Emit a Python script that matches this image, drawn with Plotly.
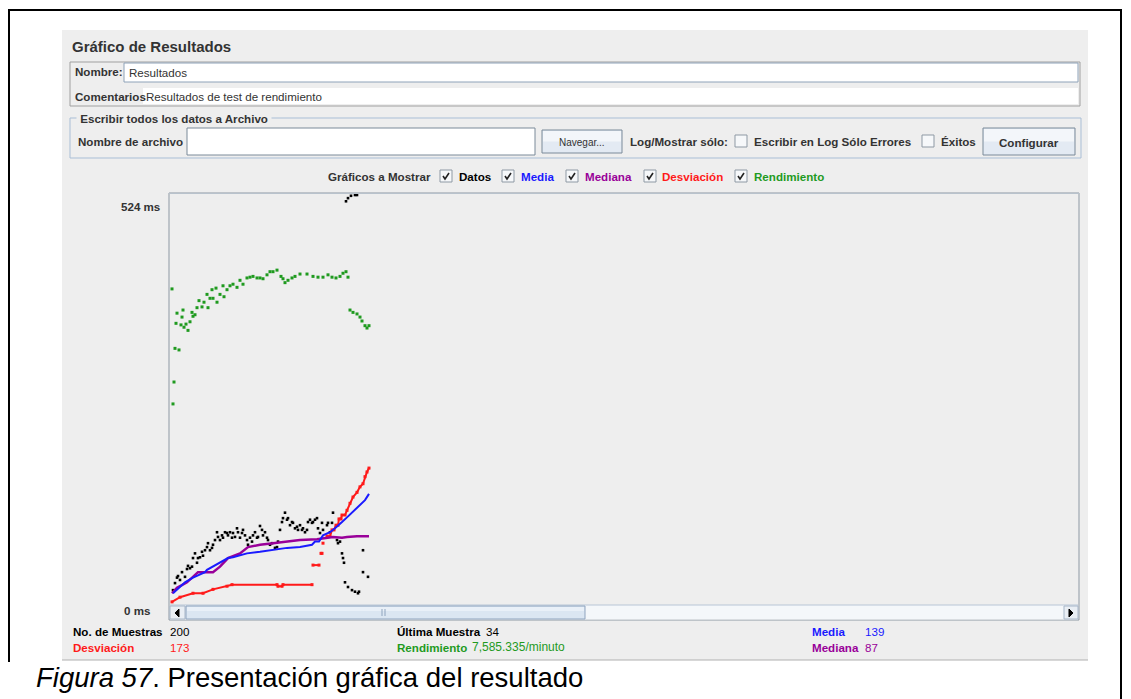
import plotly.graph_objects as go

# page body has an 8px margin: figure covers page pixels 8..1131 / 8..699
OFF = 8
W, H = 1131 - OFF, 699 - OFF

# ---------------- data (sample index, ms) ----------------
datos_idx = [2, 4, 6, 7, 9, 11, 14, 16, 17, 19, 21, 22, 24, 26, 27, 29, 31, 32, 34, 36, 37, 39, 41, 42, 44,
             46, 47, 49, 51, 52, 54, 56, 57, 59, 61, 62, 64, 66, 67, 69, 71, 72, 74, 76, 77, 79, 81, 82, 84,
             86, 87, 89, 91, 92, 94, 96, 97, 99, 101, 104, 106, 107, 109, 111, 112, 114, 116, 117, 119, 121,
             122, 124, 126, 127, 129, 131, 132, 134, 136, 137, 139, 141, 142, 144, 146, 147, 149, 151, 152,
             156, 157, 159, 161, 162, 166, 167, 169, 171, 172, 173, 174, 177, 181, 184, 187, 188, 192, 192,
             197, 175, 177, 180, 184, 186]
datos_ms = [19, 28, 35, 37, 32, 42, 36, 46, 50, 47, 49, 60, 66, 54, 60, 61, 68, 63, 70, 74, 79, 70, 73, 77, 83,
            93, 87, 83, 89, 86, 93, 92, 89, 93, 86, 92, 87, 98, 93, 86, 92, 96, 89, 83, 77, 86, 81, 89, 93,
            86, 87, 101, 96, 89, 93, 86, 83, 77, 79, 73, 74, 81, 96, 106, 111, 118, 109, 111, 102, 106,
            105, 98, 100, 96, 102, 96, 98, 93, 96, 106, 109, 105, 106, 109, 111, 98, 92, 105, 96,
            102, 105, 93, 105, 118, 83, 79, 81, 66, 60, 54, 29, 23, 19, 17, 15, 17, 70, 42,
            36, 516, 520, 523, 524, 524]

media_idx = [2, 9, 14, 22, 34, 36, 49, 57, 62, 76, 89, 102, 116, 129, 141, 144, 148, 152, 159, 164, 167,
             171, 176, 181, 187, 191, 194, 198]
media_ms = [15, 23, 29, 35, 42, 45, 54, 60, 61, 66, 68, 70, 73, 74, 77, 81, 81, 89, 93, 98, 102,
            106, 112, 118, 125, 130, 134, 142]

mediana_idx = [1, 6, 16, 27, 42, 49, 57, 69, 77, 89, 102, 116, 129, 146, 162, 171, 176, 186, 198]
mediana_ms = [15, 22, 29, 42, 42, 49, 60, 66, 74, 77, 79, 81, 83, 84, 87, 86, 87, 88, 88]

desv_idx = [1, 9, 22, 32, 42, 56, 61, 106, 107, 111, 112, 141, None, 142, 148, None, 150, 151, None, 152, None,
            156, 159, 161, 163, 165, 167, 168, 170, 171, 174, 176, 179, 182, 186, 189, 192, 194, 196, 198]
desv_ms = [4, 10, 15, 15, 20, 24, 26, 26, 24, 24, 26, 26, None, 51, 51, None, 66, 66, None, 79, None,
           88, 88, 96, 96, 102, 102, 110, 110, 115, 115, 121, 130, 138, 144, 151, 155, 164, 170, 175]

rend_idx = [1, 2, 3, 4, 5, 6, 8, 10, 11, 12, 13, 15, 17, 19, 21, 22, 24, 26, 28, 31, 33, 36, 37, 39, 41, 42,
            45, 46, 49, 52, 53, 56, 59, 62, 66, 69, 72, 76, 79, 82, 86, 89, 92, 96, 99, 102, 106, 110,
            112, 114, 117, 121, 124, 129, 136, 142, 147, 152, 157, 161, 165, 169, 172, 175, 177,
            179, 182, 186, 189, 191, 194, 196, 198]
rend_ms = [404, 257, 285, 328, 360, 373, 326, 358, 368, 377, 355, 359, 351, 362, 374, 369, 371, 380, 389, 381,
           387, 397, 380, 392, 403, 392, 405, 387, 397, 408, 394, 403, 408, 410, 406, 415, 410, 418, 419,
           420, 418, 418, 417, 422, 426, 426, 428, 420, 417, 412, 415, 418, 420, 423, 423, 420, 419, 419,
           422, 419, 418, 420, 424, 426, 419, 377, 374, 372, 368, 363, 357, 354, 357]

y_max_label = "524 ms"
y_min_label = "0 ms"

C_BLUE = "#1a1aff"
C_PURPLE = "#990099"
C_RED = "#ff1a1a"
C_GREEN = "#1f9a1f"
C_TXT = "#333333"
PANEL = "#eeeeee"
FONT = "Liberation Sans, Arial, sans-serif"
FS = 11.6


def X(p):
    return (p - OFF) / W


def Y(p):
    return 1 - (p - OFF) / H


shapes = []
annots = []


def rect(x0, y0, x1, y1, fill=None, line=None, lw=1, layer="below"):
    shapes.append(dict(type="rect", xref="paper", yref="paper",
                       x0=X(x0), x1=X(x1), y0=Y(y1), y1=Y(y0),
                       fillcolor=fill if fill else "rgba(0,0,0,0)",
                       line=dict(color=line if line else "rgba(0,0,0,0)", width=lw if line else 0),
                       layer=layer))


def hline(x0, x1, y, color, lw=1, layer="above"):
    shapes.append(dict(type="line", xref="paper", yref="paper", x0=X(x0), x1=X(x1), y0=Y(y), y1=Y(y),
                       line=dict(color=color, width=lw), layer=layer))


def vline(x, y0, y1, color, lw=1, layer="above"):
    shapes.append(dict(type="line", xref="paper", yref="paper", x0=X(x), x1=X(x), y0=Y(y0), y1=Y(y1),
                       line=dict(color=color, width=lw), layer=layer))


def path(pts, fill=None, line="#000", lw=1, close=False):
    d = "M " + " L ".join(f"{X(a):.5f},{Y(b):.5f}" for a, b in pts)
    if close:
        d += " Z"
    shapes.append(dict(type="path", xref="paper", yref="paper", path=d,
                       fillcolor=fill if fill else "rgba(0,0,0,0)",
                       line=dict(color=line, width=lw), layer="above"))


def text(x, y, s, size=FS, color=C_TXT, bold=False, italic=False, anchor="left", bg=None, family=FONT):
    if bold:
        s = f"<b>{s}</b>"
    if italic:
        s = f"<i>{s}</i>"
    a = dict(x=X(x), y=Y(y), xref="paper", yref="paper", text=s, showarrow=False,
             xanchor=anchor, yanchor="middle", font=dict(size=size, color=color, family=family))
    if bg:
        a["bgcolor"] = bg
        a["borderpad"] = 0
    annots.append(a)


def checkbox(x, y, checked=False):
    rect(x, y, x + 12, y + 12, fill="#f6f8fa", line="#8e99a4", layer="above")
    if checked:
        path([(x + 3, y + 6), (x + 5, y + 9), (x + 9, y + 3)], line="#222222", lw=1.6)


def button(x0, y0, x1, y1, label, bold=False, size=FS):
    rect(x0, y0, x1, y1, fill="#e3eaf3", line="#7a8a99", layer="above")
    rect(x0 + 1, y0 + 1, x1 - 1, (y0 + y1) / 2, fill="#f3f6fa", layer="above")
    text((x0 + x1) / 2, (y0 + y1) / 2 + 1, label, size=size, color=C_TXT, bold=bold, anchor="center")


# ---------------- outer frame & panel ----------------
rect(62, 30, 1088, 660, fill=PANEL)
hline(62, 1088, 660, "#b0b0b0")
hline(8, 1122, 10, "#000000", 2)
vline(9, 10, 662, "#000000", 2)
vline(1121, 10, 699, "#000000", 2)

text(70, 46, "Gráfico de Resultados", size=15, bold=True)

# name / comments
rect(70, 62, 1080, 106, line="#a0a0a0", layer="above")
text(73, 72, "Nombre:", bold=True)
rect(124, 63, 1078, 82, fill="#ffffff", line="#8ea2b8", layer="above")
text(127, 72.5, "Resultados", color="#333333")
text(73, 96, "Comentarios", bold=True)
rect(143, 88, 1078, 104, fill="#ffffff", layer="above")
text(144, 96, "Resultados de test de rendimiento")

# file group
shapes.append(dict(type="rect", xref="paper", yref="paper", x0=X(70), x1=X(1081), y0=Y(158), y1=Y(118),
                   line=dict(color="#a9bed6", width=1), fillcolor="rgba(0,0,0,0)", layer="above"))
text(76, 118, " Escribir todos los datos a Archivo ", bold=True, bg=PANEL)
text(76, 141, "Nombre de archivo", bold=True)
rect(187, 128, 535, 155, fill="#ffffff", line="#7a8a99", layer="above")
button(542, 130, 622, 153, "Navegar...", size=10)
text(628, 141, "Log/Mostrar sólo:", bold=True)
checkbox(735, 135)
text(752, 141, "Escribir en Log Sólo Errores", bold=True)
checkbox(922, 135)
text(939, 141, "Éxitos", bold=True)
button(983, 128, 1075, 155, "Configurar", bold=True)

# legend row
text(326, 176.5, "Gráficos a Mostrar", bold=True)
checkbox(440, 170, True)
text(457, 176.5, "Datos", bold=True, color="#000000")
checkbox(502, 170, True)
text(519, 176.5, "Media", bold=True, color=C_BLUE)
checkbox(566, 170, True)
text(583, 176.5, "Mediana", bold=True, color=C_PURPLE)
checkbox(644, 170, True)
text(660, 176.5, "Desviación", bold=True, color=C_RED)
checkbox(735, 170, True)
text(752, 176.5, "Rendimiento", bold=True, color=C_GREEN)

# graph frame
rect(169, 193, 1079, 620, line="#8e99a4", layer="above")
hline(169, 1079, 193.5, "#b8c2cc")
text(119, 206, y_max_label, bold=True)
text(122, 610, y_min_label, bold=True)

# scrollbar
rect(170, 605, 1078, 619.5, fill="#f4f7fa", layer="above")
hline(170, 1078, 605, "#b8c6d6")
rect(170, 606, 185, 619, fill="#e9eef4", line="#a7b6c8", layer="above")
path([(179, 609), (179, 617), (175, 613)], fill="#000000", line="#000000", lw=1, close=True)
rect(186, 606, 585, 619, fill="#dbe6f2", line="#8fa4be", layer="above")
rect(187, 607, 584, 611, fill="#e9f0f8", layer="above")
vline(382, 609, 616, "#8fa4be")
vline(385, 609, 616, "#8fa4be")
rect(1064, 606, 1078, 619, fill="#e9eef4", line="#a7b6c8", layer="above")
path([(1069, 609), (1069, 617), (1073, 613)], fill="#000000", line="#000000", lw=1, close=True)

# stats
text(71, 631, "No. de Muestras", bold=True, color="#000000")
text(168, 631, "200", color="#000000")
text(395, 631, "Última Muestra", bold=True, color="#000000")
text(484, 631, "34", color="#000000")
text(810, 631, "Media", bold=True, color=C_BLUE)
text(863, 631, "139", color=C_BLUE)
text(71, 647, "Desviación", bold=True, color=C_RED)
text(168, 647, "173", color=C_RED)
text(395, 647, "Rendimiento", bold=True, color=C_GREEN)
text(470, 647, "7,585.335/minuto", size=12, color=C_GREEN)
text(810, 647, "Mediana", bold=True, color=C_PURPLE)
text(863, 647, "87", color=C_PURPLE)

# caption
annots.append(dict(x=X(34), y=Y(677), xref="paper", yref="paper", showarrow=False, xanchor="left",
                   yanchor="middle", text="<i>Figura 57</i>. Presentación gráfica del resultado",
                   font=dict(size=27.5, color="#000000", family=FONT)))

# ---------------- traces ----------------
fig = go.Figure()
fig.add_trace(go.Scatter(x=rend_idx, y=rend_ms, mode="markers",
                         marker=dict(symbol="square", size=3, color=C_GREEN, line=dict(width=0)),
                         name="Rendimiento"))
fig.add_trace(go.Scatter(x=datos_idx, y=datos_ms, mode="markers",
                         marker=dict(symbol="square", size=2.6, color="#000000", line=dict(width=0)),
                         name="Datos"))
fig.add_trace(go.Scatter(x=desv_idx, y=desv_ms, mode="lines+markers", connectgaps=False,
                         line=dict(color=C_RED, width=2),
                         marker=dict(symbol="square", size=3, color=C_RED, line=dict(width=0)),
                         name="Desviación"))
fig.add_trace(go.Scatter(x=mediana_idx, y=mediana_ms, mode="lines",
                         line=dict(color=C_PURPLE, width=2.5), name="Mediana"))
fig.add_trace(go.Scatter(x=media_idx, y=media_ms, mode="lines",
                         line=dict(color=C_BLUE, width=2), name="Media"))

fig.update_layout(
    width=W, height=H, autosize=False,
    margin=dict(l=0, r=0, t=0, b=0),
    paper_bgcolor="#ffffff", plot_bgcolor=PANEL,
    showlegend=False,
    xaxis=dict(domain=[X(170), X(1078)], range=[-1, 907], visible=False, fixedrange=True),
    yaxis=dict(domain=[Y(605), Y(194)], range=[0, 525.3], visible=False, fixedrange=True),
    shapes=shapes, annotations=annots,
    font=dict(family=FONT),
)

fig.write_html("out.html")
